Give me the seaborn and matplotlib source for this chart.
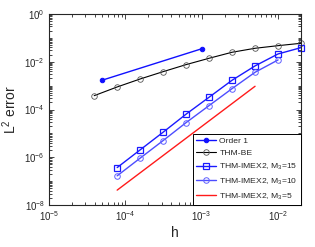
import matplotlib
matplotlib.use("Agg")
import matplotlib.pyplot as plt
import seaborn as sns
import numpy as np
from matplotlib.ticker import LogLocator, NullFormatter

sns.set_style("ticks")
plt.rcParams['font.family'] = ['Liberation Sans', 'DejaVu Sans']
plt.rcParams['mathtext.fontset'] = 'custom'
plt.rcParams['mathtext.rm'] = 'Liberation Sans'

# Data
h_order1 = [5.0e-5, 1.0e-3]
e_order1 = [1.7e-3, 3.5e-2]

h_be = [3.90625e-5, 7.8125e-5, 1.5625e-4, 3.125e-4, 6.25e-4, 1.25e-3, 2.5e-3, 5e-3, 1e-2, 2e-2]
e_be = [3.8e-4, 8.8e-4, 1.9e-3, 3.85e-3, 7.6e-3, 1.4e-2, 2.5e-2, 3.67e-2, 4.72e-2, 5.94e-2]

h_m15 = [7.8125e-5, 1.5625e-4, 3.125e-4, 6.25e-4, 1.25e-3, 2.5e-3, 5e-3, 1e-2, 2e-2]
e_m15 = [3.7e-7, 2.04e-6, 1.12e-5, 6.4e-5, 3.27e-4, 1.68e-3, 6.7e-3, 2.12e-2, 3.9e-2]

h_m10 = [7.8125e-5, 1.5625e-4, 3.125e-4, 6.25e-4, 1.25e-3, 2.5e-3, 5e-3, 1e-2]
e_m10 = [1.67e-7, 9.2e-7, 5.0e-6, 2.83e-5, 1.46e-4, 7.5e-4, 3.63e-3, 1.19e-2]

h_m5 = [7.8125e-5, 5e-3]
e_m5 = [4.2e-8, 9.4e-4]

labels = ["Order 1", "THM-BE", "THM-IMEX2, M$_3$=15", "THM-IMEX2, M$_3$=10", "THM-IMEX2, M$_3$=5"]

fig = plt.figure(figsize=(3.15, 2.47), dpi=100)
ax = fig.add_axes([0.1556, 0.17, 0.8, 0.7733])

lw = 1.0
sns.lineplot(x=h_order1, y=e_order1, ax=ax, color="#1010ff", lw=lw, marker="o", ms=3.2,
             mfc="#1010ff", mec="#1010ff", label=labels[0], clip_on=False)
sns.lineplot(x=h_be, y=e_be, ax=ax, color="black", lw=0.8, marker="o", ms=4,
             mfc="none", mec="#555555", mew=0.6, label=labels[1], clip_on=False)
sns.lineplot(x=h_m15, y=e_m15, ax=ax, color="#1a1aff", lw=lw, marker="s", ms=4,
             mfc="none", mec="#1a1aff", mew=0.9, label=labels[2], clip_on=False)
sns.lineplot(x=h_m10, y=e_m10, ax=ax, color="#4d4dff", lw=lw, marker="o", ms=4,
             mfc="none", mec="#6060ff", mew=0.7, label=labels[3], clip_on=False)
sns.lineplot(x=h_m5, y=e_m5, ax=ax, color="#ff1a1a", lw=lw, label=labels[4])

ax.set_xscale("log")
ax.set_yscale("log")
ax.set_xlim(1e-5, 2e-2)
ax.set_ylim(1e-8, 1)
ax.set_xticks([1e-5, 1e-4, 1e-3, 1e-2])
ax.set_yticks([1e-8, 1e-6, 1e-4, 1e-2, 1e0])
ax.xaxis.set_minor_locator(LogLocator(base=10, subs=np.arange(2, 10)))
ax.yaxis.set_minor_locator(LogLocator(base=10, subs=np.arange(1, 10), numticks=20))
ax.xaxis.set_minor_formatter(NullFormatter())
ax.yaxis.set_minor_formatter(NullFormatter())
ax.tick_params(which="both", direction="in", top=True, right=True, labelsize=7, width=0.6, pad=3)
ax.tick_params(which="major", length=3.5)
ax.tick_params(which="minor", length=2)
for s in ax.spines.values():
    s.set_linewidth(0.8)
    s.set_visible(True)

ax.set_xlabel("h", fontsize=10, labelpad=2)
ax.set_ylabel("L$^2$ error", fontsize=10, labelpad=4)

leg = ax.legend(loc="lower right", borderaxespad=0, fontsize=6.1, fancybox=False,
                edgecolor="black", framealpha=1, handlelength=2.3, handletextpad=0.4,
                labelspacing=0.5, borderpad=0.4)
leg.get_frame().set_linewidth(0.7)

fig.savefig("out.png", dpi=100)
